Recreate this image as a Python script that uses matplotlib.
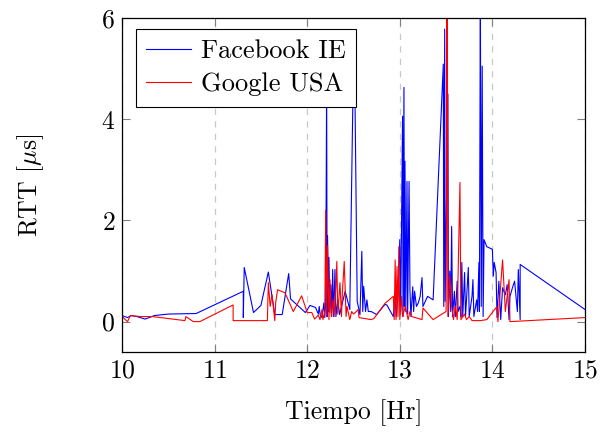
import matplotlib
matplotlib.use("Agg")
import matplotlib.pyplot as plt

plt.rcParams['font.family'] = 'serif'
plt.rcParams['font.serif'] = ['cmr10']
plt.rcParams['mathtext.fontset'] = 'cm'
plt.rcParams['axes.formatter.use_mathtext'] = True

# Facebook IE (hora, RTT)
fb_t = [10.00, 10.06, 10.10, 10.16, 10.25, 10.35, 10.50, 10.80,
        11.31, 11.31, 11.32, 11.42, 11.50, 11.58, 11.65, 11.73, 11.80, 11.82, 11.98, 12.03, 12.09, 12.12,
        12.13, 12.14, 12.16, 12.18, 12.19, 12.20, 12.21, 12.215, 12.22, 12.23, 12.235, 12.245, 12.255, 12.265,
        12.275, 12.285, 12.30, 12.31, 12.33, 12.35, 12.41, 12.46, 12.495, 12.515, 12.54, 12.57, 12.59, 12.60,
        12.61, 12.63, 12.645, 12.66, 12.69, 12.75, 12.84, 12.86, 12.93,
        12.95, 12.96, 12.98, 13.00, 13.01, 13.03, 13.035, 13.045, 13.05, 13.056, 13.065, 13.078, 13.085,
        13.10, 13.11, 13.12, 13.14, 13.15, 13.16, 13.18, 13.20, 13.22, 13.24, 13.25, 13.30, 13.36,
        13.47, 13.475, 13.485, 13.49, 13.52, 13.525, 13.54, 13.55, 13.56, 13.57, 13.59, 13.60, 13.62, 13.63,
        13.65, 13.66,
        13.67, 13.68, 13.70, 13.71, 13.74, 13.75, 13.78, 13.79, 13.80, 13.83, 13.84, 13.855, 13.86, 13.87,
        13.88, 13.89, 13.90, 13.91, 13.94, 14.00, 14.01, 14.02, 14.04, 14.05, 14.07, 14.09, 14.11, 14.14,
        14.16, 14.18, 14.19, 14.22, 14.24, 14.27, 14.28, 14.30, 14.30, 15.00]
fb_rtt = [0.12, 0.08, 0.12, 0.10, 0.05, 0.12, 0.15, 0.16,
          0.60, 0.08, 1.07, 0.18, 0.32, 0.98, 0.14, 0.14, 0.95, 0.45, 0.18, 0.32, 0.28, 0.15,
          0.30, 0.14, 0.08, 0.37, 0.08, 0.40, 4.80, 0.10, 1.70, 0.20, 1.27, 0.18, 0.73, 0.10,
          1.03, 0.10, 1.03, 0.10, 0.43, 0.14, 0.60, 0.24, 4.60, 4.60, 0.40, 0.14, 1.39, 0.20,
          0.70, 0.20, 0.43, 0.20, 0.20, 0.14, 0.34, 0.33, 0.10,
          0.60, 0.10, 0.50, 1.62, 0.20, 4.06, 0.10, 4.63, 0.30, 3.17, 0.20, 2.77, 0.15,
          2.77, 0.60, 0.10, 0.69, 0.20, 0.60, 0.30, 0.37, 0.50, 0.87, 0.30, 0.50, 0.43,
          5.09, 0.30, 5.78, 0.40, 4.50, 0.10, 1.00, 0.20, 1.88, 0.10, 0.60, 0.10, 0.80, 0.20,
          0.30, 0.10,
          1.17, 0.10, 0.97, 0.10, 1.07, 0.10, 0.50, 0.83, 0.10, 0.43, 0.20, 1.17, 0.20, 6.50,
          0.30, 5.05, 0.10, 1.62, 1.48, 1.43, 0.90, 1.17, 0.97, 0.08, 0.80, 0.04, 0.67, 0.53,
          0.73, 0.04, 0.50, 0.69, 0.80, 0.20, 1.03, 0.04, 1.13, 0.24]

# Google USA (hora, RTT)
gg_t = [10.00, 10.06, 10.09, 10.20, 10.33, 10.68, 10.69, 10.77, 10.84, 11.20, 11.20, 11.57, 11.58, 11.60,
        11.62, 11.65, 11.66, 11.68, 11.76, 11.85, 11.94, 12.00, 12.05, 12.08, 12.12,
        12.138, 12.16, 12.17, 12.19, 12.20, 12.21, 12.22, 12.235, 12.246, 12.26, 12.28, 12.29, 12.31, 12.32,
        12.33, 12.354, 12.37, 12.38, 12.40, 12.42, 12.43, 12.46, 12.48, 12.50, 12.53, 12.55, 12.56, 12.69,
        12.72, 12.84,
        12.93, 12.94, 12.95, 12.96, 12.97, 12.98, 12.99, 13.00, 13.02, 13.03, 13.06, 13.09, 13.11, 13.13,
        13.24, 13.25, 13.36, 13.50, 13.51, 13.52, 13.54, 13.56, 13.58, 13.60, 13.62, 13.65, 13.66, 13.70,
        13.72, 13.75, 13.78, 13.87, 13.94, 14.05, 14.06, 14.11, 14.14, 14.18, 14.19, 15.00]
gg_rtt = [0.10, 0.00, 0.12, 0.10, 0.10, 0.02, 0.10, 0.00, 0.00, 0.33, 0.02, 0.02, 0.77, 0.30,
          0.53, 0.02, 0.38, 0.63, 0.57, 0.20, 0.51, 0.18, 0.18, 0.05, 0.13,
          0.04, 0.24, 0.04, 0.20, 2.20, 0.10, 1.50, 0.04, 0.83, 0.10, 0.43, 0.10, 0.67, 1.19,
          0.15, 0.77, 0.10, 0.57, 1.19, 0.10, 0.30, 0.04, 0.20, 0.15, 0.20, 0.24, 0.08, 0.04,
          0.06, 0.36,
          0.50, 0.04, 1.22, 0.04, 1.09, 0.10, 1.48, 0.04, 0.50, 0.10, 0.30, 0.04, 0.20, 0.10,
          0.04, 0.27, 0.04, 0.20, 6.50, 0.10, 0.90, 0.30, 0.04, 0.30, 0.04, 2.75, 0.04, 0.15,
          0.04, 0.10, 0.02, 0.02, 0.04, 0.30, 0.00, 1.22, 0.20, 0.83, 0.00, 0.08]

fig = plt.figure(figsize=(6.11, 4.32), dpi=100)
ax = fig.add_axes([0.1997, 0.1852, 0.7577, 0.7731])

ax.plot(fb_t, fb_rtt, color='blue', lw=0.8, label='Facebook IE')
ax.plot(gg_t, gg_rtt, color='red', lw=0.8, label='Google USA')

ax.set_xlim(10, 15)
ax.set_ylim(-0.6, 6)
ax.set_xticks([10, 11, 12, 13, 14, 15])
ax.set_yticks([0, 2, 4, 6])
ax.grid(axis='x', color='#c8c8c8', linestyle=(0, (5, 5)), lw=0.9)
ax.tick_params(direction='in', top=True, right=True, length=6, width=0.8,
               color='#808080', labelsize=18.5, pad=5)
for s in ax.spines.values():
    s.set_linewidth(0.9)

ax.set_xlabel('Tiempo [Hr]', fontsize=18.5, labelpad=12)
ax.set_ylabel(r'RTT [$\mu$s]', fontsize=18.5)
ax.yaxis.set_label_coords(-0.165, 0.5)

leg = ax.legend(loc='upper left', bbox_to_anchor=(0.03, 0.967), borderaxespad=0,
                fontsize=19, fancybox=False, framealpha=1, edgecolor='black',
                handlelength=1.7, handletextpad=0.35, borderpad=0.4, labelspacing=0.35)
leg.get_frame().set_linewidth(0.8)

fig.savefig('out.png', dpi=100)
